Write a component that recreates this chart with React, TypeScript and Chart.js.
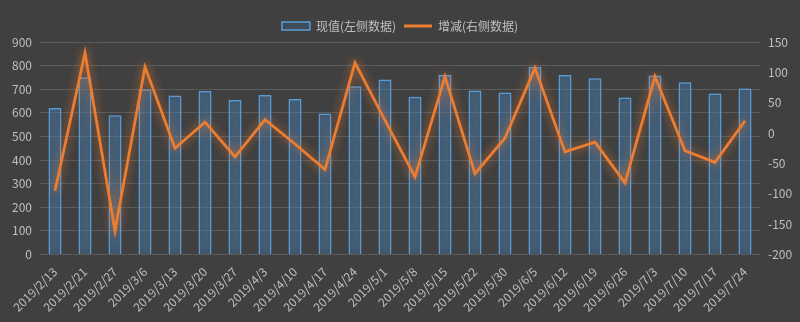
import React, { useEffect, useRef } from "react";
import { Chart, registerables } from "chart.js";

Chart.register(...registerables);

const categories = [
  "2019/2/13", "2019/2/21", "2019/2/27", "2019/3/6", "2019/3/13", "2019/3/20",
  "2019/3/27", "2019/4/3", "2019/4/10", "2019/4/17", "2019/4/24", "2019/5/1",
  "2019/5/8", "2019/5/15", "2019/5/22", "2019/5/30", "2019/6/5", "2019/6/12",
  "2019/6/19", "2019/6/26", "2019/7/3", "2019/7/10", "2019/7/17", "2019/7/24",
];

const currentValues = [
  620, 751, 590, 700, 673, 692, 654, 676, 659, 597, 713, 741,
  668, 760, 695, 686, 794, 760, 746, 665, 758, 730, 682, 703,
];

const changeValues = [
  -95, 132, -161, 109, -25, 18, -39, 22, -18, -60, 116, 21,
  -72, 93, -67, -8, 107, -31, -15, -82, 93, -29, -48, 20,
];

const leftTicks = { min: 0, max: 900, step: 100 };
const rightTicks = { min: -200, max: 150, step: 50 };

const seriesNames = ["现值(左侧数据)", "增减(右侧数据)"];

const FONT = "'Noto Sans CJK SC', 'DejaVu Sans', sans-serif";
const TEXT = "#bfbfbf";
const BAR_FILL = "rgba(60,110,160,0.28)";

const glowPlugin = {
  id: "glow",
  beforeDatasetDraw(chart: any, args: any) {
    const ctx = chart.ctx;
    ctx.save();
    if (args.index === 0) {
      ctx.shadowColor = "rgba(91,155,213,0.85)";
      ctx.shadowBlur = 10;
    } else {
      ctx.shadowColor = "rgba(237,125,49,0.85)";
      ctx.shadowBlur = 10;
    }
  },
  afterDatasetDraw(chart: any) {
    chart.ctx.restore();
  },
};

const bgPlugin = {
  id: "bg",
  beforeDraw(chart: any) {
    const ctx = chart.ctx;
    ctx.save();
    ctx.fillStyle = "#404040";
    ctx.fillRect(0, 0, chart.width, chart.height);
    ctx.restore();
  },
};

export default function App() {
  const ref = useRef<HTMLCanvasElement>(null);
  useEffect(() => {
    document.body.style.margin = "0";
    document.body.style.background = "#404040";
    const chart = new Chart(ref.current!, {
      type: "bar",
      data: {
        labels: categories,
        datasets: [
          {
            type: "bar",
            label: seriesNames[0],
            data: currentValues,
            backgroundColor: BAR_FILL,
            borderColor: "#5b9bd5",
            borderWidth: 1.5,
            barPercentage: 0.43,
            categoryPercentage: 1,
            yAxisID: "y",
            order: 2,
            pointStyle: "rect",
          } as any,
          {
            type: "line",
            label: seriesNames[1],
            data: changeValues,
            borderColor: "#ed7d31",
            backgroundColor: "#ed7d31",
            borderWidth: 2.75,
            pointRadius: 0,
            tension: 0,
            yAxisID: "y1",
            order: 1,
            pointStyle: "line",
          } as any,
        ],
      },
      options: {
        animation: false,
        responsive: false,
        maintainAspectRatio: false,
        layout: { padding: { top: 12, left: 0, right: 0, bottom: 0 } },
        plugins: {
          tooltip: { enabled: false },
          legend: {
            position: "top",
            labels: {
              color: TEXT,
              font: { family: FONT, size: 12 },
              usePointStyle: true,
              pointStyleWidth: 28,
              boxHeight: 8,
              padding: 8,
              sort: (a: any, b: any) => a.datasetIndex - b.datasetIndex,
              generateLabels(chart: any) {
                const items = Chart.defaults.plugins.legend.labels.generateLabels(chart);
                items.forEach((it: any) => {
                  if (it.datasetIndex === 0) {
                    it.fillStyle = BAR_FILL;
                    it.strokeStyle = "#5b9bd5";
                    it.lineWidth = 1.5;
                    it.pointStyle = "rect";
                  } else {
                    it.strokeStyle = "#ed7d31";
                    it.lineWidth = 3;
                    it.pointStyle = "line";
                  }
                });
                return items;
              },
            },
          },
        },
        scales: {
          x: {
            grid: { display: false },
            border: { display: false },
            ticks: {
              color: TEXT,
              font: { family: FONT, size: 12 },
              minRotation: 45,
              maxRotation: 45,
              autoSkip: false,
              padding: 2,
            },
            afterFit(scale: any) {
              scale.height = 67.5;
            },
          },
          y: {
            position: "left",
            min: leftTicks.min,
            max: leftTicks.max,
            ticks: {
              stepSize: leftTicks.step,
              color: TEXT,
              font: { family: FONT, size: 12 },
              padding: 8,
            },
            grid: { color: "rgba(255,255,255,0.14)", drawTicks: false, lineWidth: 1 },
            border: { display: false },
            afterFit(scale: any) {
              scale.width = 40;
            },
          },
          y1: {
            position: "right",
            min: rightTicks.min,
            max: rightTicks.max,
            ticks: {
              stepSize: rightTicks.step,
              color: TEXT,
              font: { family: FONT, size: 12 },
              padding: 8,
            },
            grid: { display: false, drawTicks: false },
            border: { display: false },
            afterFit(scale: any) {
              scale.width = 40;
            },
          },
        },
      },
      plugins: [bgPlugin, glowPlugin],
    } as any);
    return () => chart.destroy();
  }, []);
  return (
    <div style={{ width: 800, height: 322, background: "#404040" }}>
      <canvas ref={ref} width={800} height={322} style={{ display: "block" }} />
    </div>
  );
}
